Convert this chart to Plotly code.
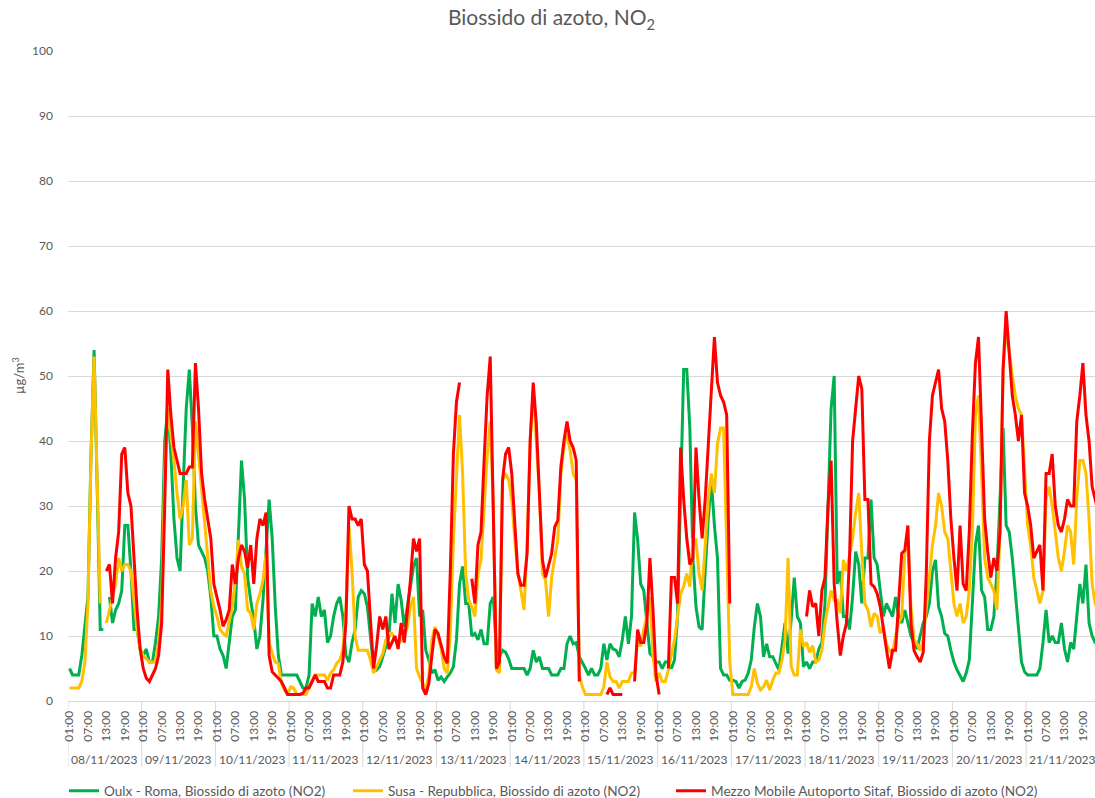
import plotly.graph_objects as go

dates = ["08/11/2023", "09/11/2023", "10/11/2023", "11/11/2023", "12/11/2023",
         "13/11/2023", "14/11/2023", "15/11/2023", "16/11/2023", "17/11/2023",
         "18/11/2023", "19/11/2023", "20/11/2023", "21/11/2023"]
hour_labels = ["01:00", "07:00", "13:00", "19:00"]
names = ["Oulx - Roma, Biossido di azoto (NO2)",
         "Susa - Repubblica, Biossido di azoto (NO2)",
         "Mezzo Mobile Autoporto Sitaf, Biossido di azoto (NO2)"]

# hourly values, one line per day (01:00 ... 24:00)
oulx = [
    5, 4, 4, 4, 7, 12, 16, 38, 54, 33, 11, 11, None, 16, 12, 14, 15, 17, 27, 27, 20, 11, 11, 8,
    7, 8, 6, 6, 9, 13, 22, 40, 45, 38, 28, 22, 20, 33, 45, 51, 42, 30, 24, 23, 22, 20, 16, 10,
    10, 8, 7, 5, 9, 13, 14, 25, 37, 31, 19, 15.5, 12.5, 8, 10, 15.5, 24, 31, 25, 14.5, 7, 4, 4, 4,
    4, 4, 4, 3, 2, 2, 4, 15, 13, 16, 13, 14, 9, 10, 13, 15, 16, 13, 7, 6, 9, 11, 16, 17,
    16.5, 14.5, 9.5, 5.3, 4.8, 5.3, 6.8, 8.4, 10, 16.5, 12, 18, 15.5, 11.4, 14.5, 18, 20.7, 22, 13, 14, 7.8, 6.3, 4.3, 4.8,
    3.2, 3.7, 3, 3.7, 4.3, 5.3, 9.4, 18, 20.7, 15, 15, 10, 10.4, 9.4, 11, 8.8, 8.8, 15, 16, 7.8, 6.8, 7.8, 7.5, 6.5,
    5, 5, 5, 5, 5, 4, 5, 7.8, 6, 6.8, 5, 5, 5, 4, 4, 4, 5, 5, 8.8, 10, 8.8, 9, 6.8, 6,
    5, 4, 5, 4, 4, 5, 8.8, 6.3, 8.8, 8, 7.8, 6.8, 9.4, 13, 8.8, 13, 29, 24.8, 18, 17, 12, 7.3, 6.8, 6,
    6, 5, 6, 6, 5, 6.3, 13, 30, 51, 51, 42, 22, 14.5, 11.4, 11, 20, 28, 34, 27, 22, 5, 4, 4, 3.2,
    3.2, 3, 2, 3, 3.2, 4.3, 6.3, 11.4, 15, 13, 6.8, 8.8, 6.8, 6.8, 5.8, 4.8, 8.4, 12, 7.3, 12.5, 19, 13, 12, 5.3,
    6, 5, 6, 6, 8, 9, 15, 30, 45, 50, 18, 20, 13, 13, 11, 16, 23, 21, 15, 22, 22, 31, 22, 21,
    17, 13, 15, 14, 13, 16, 13, 12, 14, 12, 10, 9, 8, 10, 12, 13, 15, 20, 21.7, 14.5, 13, 10.4, 10, 7.8,
    6, 4.8, 4, 3, 4.3, 6.3, 15, 24, 27, 17, 16, 11, 11, 13, 20, 30, 42, 27, 26, 22, 17, 11, 6, 4.5,
    4, 4, 4, 4, 5, 9, 14, 9, 10, 9, 9, 12, 8, 6, 9, 8, 13, 18, 15, 21, 12, 10, 9, 9,
]

susa = [
    2, 2, 2, 2, 3, 6, 15, 38, 53, 35, 15, None, 12, 14, 16, 18, 22, 20, 21, 21, 20, 15, 11, 8,
    7, 6.5, 6, 6, 6, 9, 15, 35, 45, 41, 37, 32, 28, 30, 34, 24, 25, 43, 38, 32, 28, 22, 17, 14.5,
    13, 11, 10.4, 10, 12, 14.5, 18.6, 24.8, 20.7, 19.6, 14, 13.5, 11, 15, 16.5, 18.6, 22.7, 9, 7.3, 6, 5.8, 2.7, 1.7, 1,
    2.2, 2, 1, 1, 1, 1, 2.2, 3.2, 4, 4, 4, 4, 3.2, 4.3, 4.8, 5.8, 6.3, 7.8, 14, 27, 20, 10, 7.8, 7.8,
    7.8, 7.8, 6.3, 4.3, 5.3, 6.3, 7.3, 9.4, 10.4, 10.4, 9.4, 8.8, 9.4, 10, 11.4, 14.5, 16, 5, 3.7, 2.7, 1.7, 4, 9.4, 11.4,
    10, 8, 5, 4.3, 10.4, 24.8, 35, 44, 35, 19.6, 15.5, 14.5, 13, 19.6, 21.7, 30, 37.6, 43, 30, 4.8, 4.3, 34, 35, 34,
    31, 24.8, 19.6, 17, 14, 23.7, 40, 47.8, 40, 32, 19.6, 18.6, 13, 19, 22, 24.8, 35, 39, 41, 38.6, 35, 34, 4, 2.2,
    1, 1, 1, 1, 1, 1, 2.2, 6, 3.7, 3, 3, 2, 3, 3, 3, 4.3, 4.3, 9.4, 8.4, 11, 13, 16, 7, 3,
    4.3, 3, 3, 4.8, 7.3, 9.4, 13, 16.5, 17.6, 19.6, 17.6, 24.8, 24.8, 19.6, 17, 23.7, 31, 35, 32, 39.6, 42, 42, 22, 6,
    1, 1, 1, 1, 1, 1, 2.2, 5, 2.7, 1.7, 2.2, 3.2, 1.7, 3.2, 4.3, 4.3, 6.3, 9.4, 22, 5.3, 4, 4, 11, 8.4,
    9, 7.5, 8.5, 6, 6.3, 7.8, 12, 14.5, 17, 15.5, 15.5, 13.5, 21.7, 20, 22.7, 25, 29, 32, 22.7, 15, 14, 11.4, 13.5, 13,
    10.4, 11.4, 8.8, 7.8, 7.3, 10, 12, 13, 22.7, 24.8, 14.5, 9.4, 8.8, 7.8, 9.4, 14.5, 20, 24, 27, 32, 30, 26, 25, 19.6,
    15, 13, 15, 12, 13, 17, 26, 44, 47, 35, 22, 19, 18, 17, 14, 26, 51, 57, 54, 50, 47, 45, 44, 35,
    27, 24, 19, 17, 15, 17, 31, 33, 30, 26, 22, 20, 23, 27, 26, 21, 31, 37, 37, 35, 28, 18, 15, 14,
]

sitaf = [
    None, None, None, None, None, None, None, None, None, None, None, None, 20, 21, 15, 22, 26, 38, 39, 32, 30, 22, 14, 8,
    5, 3.5, 3, 4, 5, 7, 12, 30, 51, 44, 39, 37, 35, 35, 35, 36, 36, 52, 45, 35, 31, 28, 25, 18,
    16, 14, 11.5, 12.5, 14, 21, 18, 22, 24, 23, 20.5, 24, 18, 25, 28, 27, 29, 7, 4.5, 4, 3.5, 3, 2, 1,
    1, 1, 1, 1, 1.2, 2, 2, 3, 4, 3, 3, 3, 2, 2, 4, 4, 4, 6, 12, 30, 28, 28, 27, 28,
    21, 20, 12, 5, 8.5, 13, 11, 13, 8, 9, 10, 8, 12, 9, 13.5, 18.5, 25, 23, 25, 2, 1, 2.7, 7, 11,
    10.4, 8.8, 6.8, 5.8, 20, 38, 46, 49, None, None, None, 18.8, 15, 24, 26, 37, 47, 53, 30, 5, 6, 34, 38, 39,
    35, 28, 19.6, 17.8, 17.8, 22.7, 40, 49, 42.7, 32, 21.7, 19, 20.7, 22.7, 26.8, 27.8, 36, 40, 43, 40, 39, 37, 3, None,
    None, None, None, None, None, None, None, 1, 2, 1, 1, 1, 1, None, None, None, 3, 11, 9, 9, 12, 22, 14, 4,
    1, None, None, 5, 19, 19, 15, 39, 31, 25, 21, 22, 39, 31, 25, 31, 40, 49, 56, 49, 47, 46, 44, 15,
    None, None, None, None, None, None, None, None, None, None, None, None, None, None, None, None, None, None, None, None, None, None, None, None,
    13, 17, 14.5, 15, 10, 17, 19, 30, 37, 18, 12, 7, 10, 12, 22, 40, 45, 50, 48, 31, 31, 18, 17.6, 16.5,
    14.5, 11, 8, 5, 7.8, 7.8, 15, 22.7, 23.2, 27, 12, 7.8, 6.8, 6, 7.5, 19.6, 40, 47, 49, 51, 45, 43, 37, 28,
    22, 17, 27, 18, 17, 26, 41, 52, 56, 41, 28, 23, 19, 22, 20, 26, 51, 60, 54, 47, 44, 40, 44, 32,
    30, 27, 22, 23, 24, 17, 35, 35, 38, 30, 27, 26, 28, 31, 30, 30, 43, 47, 52, 44, 40, 33, 31, 29,
]

colors = ["#00b050", "#ffc000", "#ff0000"]
FONT = "Lato"
GREY = "#595959"
LIGHT = "#d9d9d9"

n_hours = len(dates) * 24
x = list(range(n_hours))

fig = go.Figure()
legends = ["legend", "legend2", "legend3"]
for series, name, col, lg in zip([oulx, susa, sitaf], names, colors, legends):
    fig.add_trace(go.Scatter(x=x, y=series, mode="lines", name=name,
                             line=dict(color=col, width=3),
                             connectgaps=False, legend=lg, hoverinfo="skip"))

tickvals = [d * 24 + k * 6 for d in range(len(dates)) for k in range(4)]
ticktext = [hour_labels[k] for d in range(len(dates)) for k in range(4)]

W, H = 1095, 798
ML, MT, MB = 68, 51, 97
plot_w = W - ML
hour_px = 73.7 / 24
x_max = -0.5 + plot_w / hour_px
plot_h = H - MT - MB

shapes = []
for d in range(len(dates)):
    shapes.append(dict(type="line", xref="x", yref="paper",
                       x0=d * 24 - 0.5, x1=d * 24 - 0.5, y0=0, y1=-66 / plot_h,
                       line=dict(color=LIGHT, width=1), layer="below"))

annotations = []
for d, lab in enumerate(dates):
    annotations.append(dict(x=d * 24 + 11.5, y=-58 / plot_h, xref="x", yref="paper",
                            text=lab, showarrow=False, xanchor="center", yanchor="middle",
                            font=dict(family=FONT, size=12, color=GREY)))
annotations.append(dict(x=(18 - ML) / plot_w, y=0.5, xref="paper", yref="paper",
                        text="µg/m<sup>3</sup>", showarrow=False, textangle=-90,
                        xanchor="center", yanchor="middle",
                        font=dict(family=FONT, size=13, color=GREY)))

leg_common = dict(orientation="h", xref="container", yref="container",
                  yanchor="middle", y=(H - 791) / H, xanchor="left",
                  font=dict(family=FONT, size=13.6, color=GREY),
                  bgcolor="rgba(0,0,0,0)", borderwidth=0)

fig.update_layout(
    width=W, height=H,
    margin=dict(l=ML, r=0, t=MT, b=MB, pad=0),
    paper_bgcolor="white", plot_bgcolor="white",
    title=dict(text="Biossido di azoto, NO<sub>2</sub>", x=551.5 / W, xanchor="center",
               y=1 - 18 / H, yanchor="middle", yref="container",
               font=dict(family=FONT, size=21, color=GREY)),
    xaxis=dict(range=[-0.5, x_max], tickmode="array", tickvals=tickvals, ticktext=ticktext,
               tickangle=-90, showgrid=False, zeroline=False, showline=True,
               linecolor=LIGHT, linewidth=1, ticks="", ticklabelstandoff=4,
               tickfont=dict(family=FONT, size=12, color=GREY), automargin=False),
    yaxis=dict(range=[0, 100], dtick=10, tick0=0, showgrid=True, gridcolor=LIGHT, gridwidth=1,
               zeroline=False, showline=False, ticks="", ticklabelstandoff=14,
               tickfont=dict(family=FONT, size=12, color=GREY), automargin=False),
    shapes=shapes,
    annotations=annotations,
    legend=dict(x=64 / W, **leg_common),
    legend2=dict(x=348 / W, **leg_common),
    legend3=dict(x=671 / W, **leg_common),
    showlegend=True,
)

fig.write_html("out.html", config={"displayModeBar": False},
               post_script="document.body.style.margin='0';document.body.style.overflow='hidden';")
